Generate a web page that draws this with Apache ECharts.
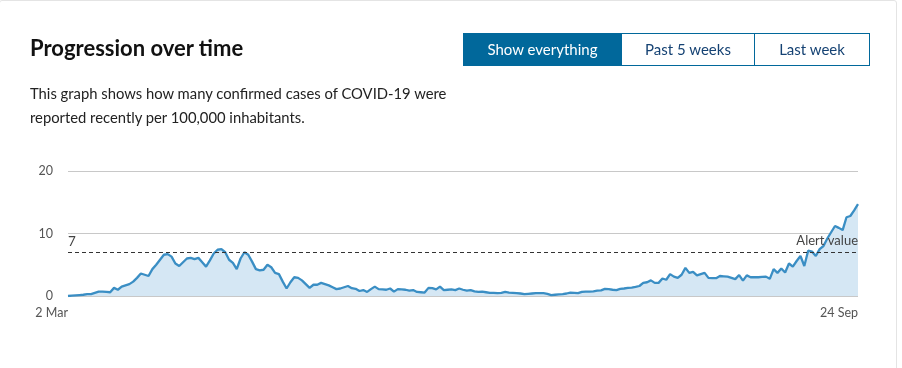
<!DOCTYPE html>
<html>
<head>
<meta charset="utf-8">
<script src="https://cdn.jsdelivr.net/npm/echarts@6/dist/echarts.min.js"></script>
<style>
  html, body { margin: 0; padding: 0; background: #fff; }
  body { width: 902px; height: 368px; position: relative; overflow: hidden; font-family: Lato, "Noto Sans", sans-serif; }
  .card { position: absolute; left: -1px; top: 0; width: 898px; height: 400px; border: 1px solid #e4e4e4; border-radius: 3px; box-sizing: border-box; }
  h2 { position: absolute; left: 30px; top: 34px; margin: 0; font-size: 22px; font-weight: bold; color: #111; }
  p.desc { position: absolute; left: 30px; top: 81px; margin: 0; font-size: 14.8px; line-height: 24px; color: #222; width: 440px; }
  .btns { position: absolute; left: 463px; top: 33px; display: flex; }
  .btns div { box-sizing: border-box; height: 33px; line-height: 31px; text-align: center; font-size: 15px; color: #154273; border: 1px solid #01689b; }
  .btns .on { background: #01689b; color: #fff; }
  #progression { position: absolute; left: 0; top: 0; width: 902px; height: 368px; }
</style>
</head>
<body>
<div class="card"></div>
<div id="progression"></div>
<h2>Progression over time</h2>
<p class="desc">This graph shows how many confirmed cases of COVID-19 were reported recently per 100,000 inhabitants.</p>
<div class="btns">
  <div class="on" style="width:159px">Show everything</div>
  <div style="width:133px;border-left:none">Past 5 weeks</div>
  <div style="width:115px;border-left:none">Last week</div>
</div>
<script>
// daily values, 2 Mar .. 24 Sep
var cases = [
  0, 0.05, 0.1, 0.15, 0.2, 0.3, 0.3, 0.5, 0.7, 0.7,
  0.65, 0.6, 1.3, 1.0, 1.5, 1.7, 1.9, 2.3, 2.9, 3.6,
  3.4, 3.2, 4.3, 5.0, 5.8, 6.6, 6.7, 6.3, 5.2, 4.8,
  5.4, 6.0, 6.1, 5.9, 6.1, 5.4, 4.7, 5.7, 6.8, 7.4,
  7.5, 7.0, 5.8, 5.3, 4.3, 6.0, 7.0, 6.6, 5.5, 4.3,
  4.1, 4.2, 5.0, 4.6, 3.7, 3.5, 2.3, 1.2, 2.2, 3.0,
  2.9, 2.5, 1.9, 1.3, 1.8, 1.8, 2.1, 1.9, 1.7, 1.4,
  1.1, 1.2, 1.4, 1.6, 1.25, 1.15, 0.8, 0.95, 0.65, 1.1,
  1.5, 1.1, 1.05, 1.0, 1.2, 0.7, 1.1, 1.05, 1.0, 0.85,
  0.95, 0.65, 0.6, 0.55, 1.3, 1.25, 1.05, 1.5, 0.95, 1.0,
  1.05, 0.95, 1.2, 1.0, 0.85, 0.95, 0.75, 0.65, 0.7, 0.6,
  0.5, 0.5, 0.45, 0.5, 0.65, 0.55, 0.5, 0.45, 0.4, 0.3,
  0.35, 0.4, 0.45, 0.45, 0.45, 0.35, 0.15, 0.2, 0.25, 0.3,
  0.4, 0.55, 0.5, 0.45, 0.65, 0.7, 0.7, 0.75, 0.85, 0.9,
  1.15, 1.1, 1.0, 0.95, 1.15, 1.2, 1.3, 1.35, 1.45, 1.6,
  2.1, 2.2, 2.5, 2.1, 2.1, 2.8, 2.6, 3.5, 3.1, 2.9,
  3.4, 4.5, 3.7, 3.85, 3.3, 3.5, 3.7, 2.9, 2.85, 2.85,
  3.2, 3.15, 3.1, 2.9, 2.7, 3.35, 2.45, 3.3, 3.0, 3.0,
  3.0, 3.05, 3.1, 2.75, 4.3, 3.7, 4.4, 3.75, 5.2, 4.7,
  5.6, 6.4, 4.8, 7.25, 7.1, 6.4, 7.5, 8.0, 9.2, 10.2,
  11.2, 10.9, 10.55, 12.6, 12.8, 13.7, 14.7
];
var startDate = '2020-03-02';
var monthNames = ['Jan', 'Feb', 'Mar', 'Apr', 'May', 'Jun', 'Jul', 'Aug', 'Sep', 'Oct', 'Nov', 'Dec'];
var alertValue = 7;
var yTicks = [0, 10, 20];

var days = [];
var d0 = new Date(startDate + 'T00:00:00Z');
for (var i = 0; i < cases.length; i++) {
  var d = new Date(d0.getTime() + i * 86400000);
  days.push(d.getUTCDate() + ' ' + monthNames[d.getUTCMonth()]);
}

var chartDom = document.getElementById('progression');
var myChart = echarts.init(chartDom);
var option;
option = {
  animation: false,
  grid: { left: 68, right: 44, top: 171, bottom: 72 },
  xAxis: {
    type: 'category',
    data: days,
    boundaryGap: false,
    axisLine: { show: false },
    axisTick: { show: false },
    axisLabel: {
      interval: function (i) { return i === 0 || i === days.length - 1; },
      align: 'right',
      color: '#555',
      fontSize: 12.5,
      fontFamily: 'Lato',
      margin: 10
    },
    splitLine: { show: false }
  },
  yAxis: {
    type: 'value',
    min: yTicks[0],
    max: yTicks[yTicks.length - 1],
    interval: yTicks[1] - yTicks[0],
    axisLine: { show: false },
    axisTick: { show: false },
    axisLabel: { color: '#555', fontSize: 12.5, fontFamily: 'Lato', margin: 15 },
    splitLine: { lineStyle: { color: '#c8c8c8', width: 1 } }
  },
  series: [
    {
      type: 'line',
      data: cases,
      showSymbol: false,
      lineStyle: { color: '#3a8ec4', width: 2.3 },
      itemStyle: { color: '#3a8ec4' },
      areaStyle: { color: '#d5e7f4', opacity: 1 },
      markLine: {
        silent: true,
        symbol: 'none',
        lineStyle: { color: '#333', type: [4, 3], width: 1 },
        data: [
          {
            yAxis: alertValue,
            label: { formatter: String(alertValue), position: 'insideStartTop', color: '#444', fontSize: 13.5, fontFamily: 'Lato', distance: [0, 4] }
          },
          {
            yAxis: alertValue,
            label: { formatter: 'Alert value', position: 'insideEndTop', color: '#444', fontSize: 13, fontFamily: 'Lato', distance: [0, 5] }
          }
        ]
      }
    }
  ]
};
option && myChart.setOption(option);
</script>
</body>
</html>
